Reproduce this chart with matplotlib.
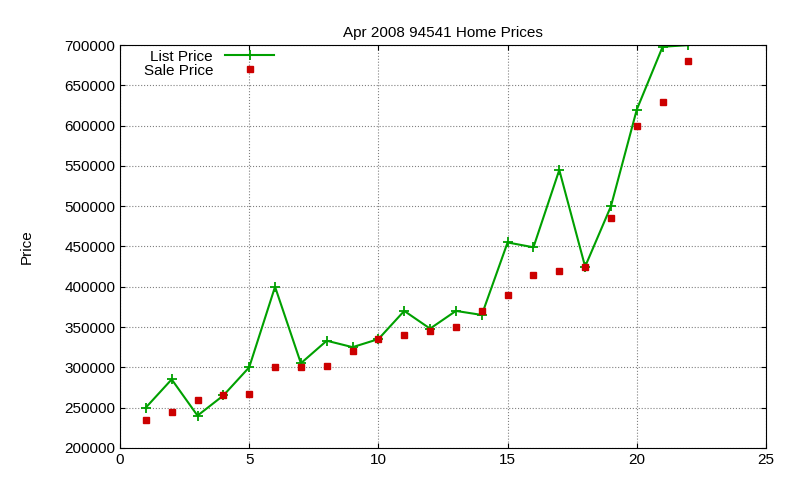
import matplotlib
matplotlib.use('Agg')
import matplotlib.pyplot as plt

plt.rcParams['font.family'] = ['Liberation Sans', 'DejaVu Sans']

days = list(range(1, 23))
list_price = [250000, 285000, 240000, 265000, 300000, 400000, 305000, 333000, 325000, 335000, 370000,
              348000, 370000, 365000, 455000, 449000, 545000, 425000, 500000, 620000, 698000, 700000]
sale_price = [235000, 245000, 260000, 265000, 267000, 300000, 300000, 302000, 320000, 335000, 340000,
              345000, 350000, 370000, 390000, 415000, 420000, 425000, 485000, 600000, 630000, 680000]

fig = plt.figure(figsize=(8, 4.8), dpi=100)
ax = fig.add_axes([0.15, 0.067, 0.8075, 0.839])

ax.plot(days, list_price, color='#00a000', marker='+', markersize=7, mew=1.3, lw=1.5, label='List Price')
ax.plot(days, sale_price, color='#cc0000', marker='s', markersize=5, ls='none', label='Sale Price')

ax.set_xlim(0, 25)
ax.set_ylim(200000, 700000)
ax.set_xticks(range(0, 26, 5))
ax.set_yticks(range(200000, 700001, 50000))
ax.ticklabel_format(style='plain', axis='y')
ax.tick_params(direction='in', top=True, right=True, labelsize=11)
ax.grid(True, ls=':', color='#808080', lw=0.8)
ax.set_title('Apr 2008 94541 Home Prices', fontsize=11)
ax.set_ylabel('Price', fontsize=11, labelpad=22)

ax.legend(loc='upper left', bbox_to_anchor=(0.02, 1.015), markerfirst=False, frameon=False,
          fontsize=11, handlelength=3.2, borderaxespad=0.3, labelspacing=0.0)

fig.savefig('out.png')
